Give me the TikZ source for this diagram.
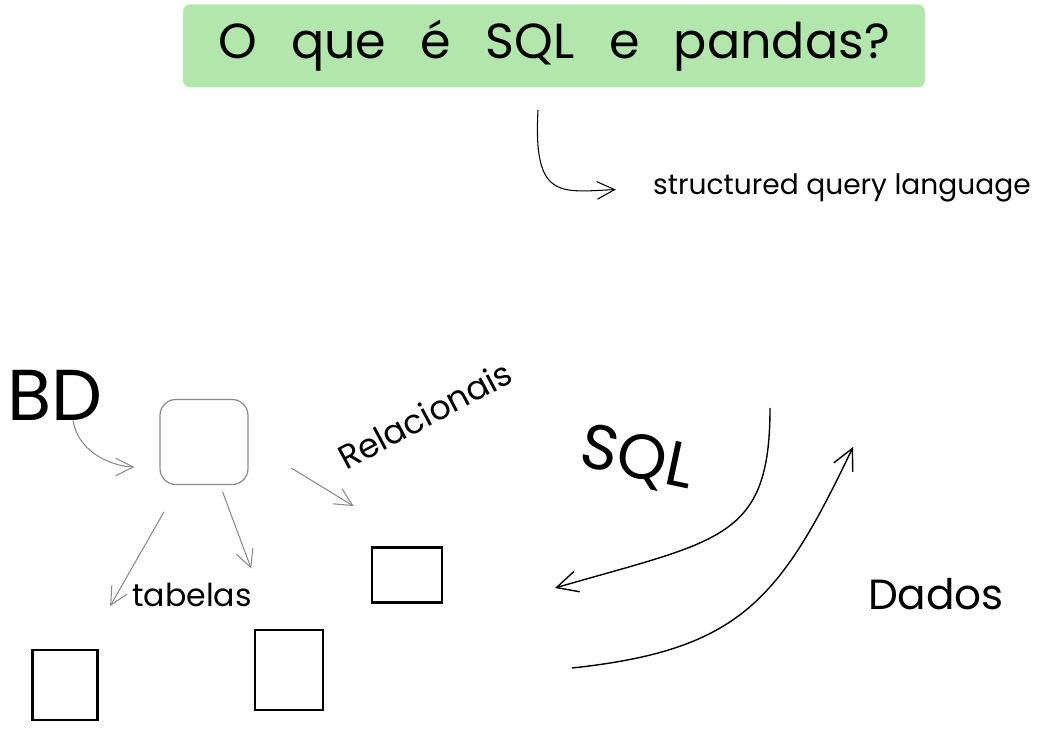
\documentclass[tikz,border=0pt]{standalone}
\usepackage{fontspec}
\setmainfont{Poppins}
\usetikzlibrary{arrows.meta,positioning,calc}
\definecolor{sqgreen}{HTML}{B2E6AD}
\definecolor{sqgray}{HTML}{8A8A8A}
\newcommand{\gap}{\hspace{0.7em}}

\begin{document}
\begin{tikzpicture}[x=0.02cm,y=-0.02cm,>={Straight Barb[length=10pt,width=10pt]},
  txt/.style={inner sep=0pt},
  tab/.style={draw,line width=1.6pt,inner sep=0pt},
  sqbox/.style={draw=sqgray,line width=0.7pt,rounded corners=9pt,minimum width=1.76cm,minimum height=1.7cm},
  gar/.style={->,draw=sqgray,line width=0.6pt},
  big/.style={->,line width=0.8pt,>={Straight Barb[length=12pt,width=12pt]}}]
\useasboundingbox (0,0) rectangle (1043,732);
\node[fill=sqgreen,rounded corners=4pt,minimum width=14.84cm,minimum height=1.66cm,font=\fontsize{28}{30}\selectfont](title) at (554,46){O\gap que\gap é\gap SQL\gap e\gap pandas?};
\node[txt,font=\fontsize{16}{19}\selectfont](def) at (842,188){structured query language};
\coordinate (q) at (538,110);
\draw[->,line width=0.6pt,shorten >=0.74cm] (q) .. controls (533,200) and (560,192) .. (def.west);
% banco de dados
\node[txt,font=\fontsize{41}{44}\selectfont](bd) at (55,395){BD};
\node[sqbox](sq) at (204,442){};
\draw[gar,shorten >=0.5cm] ([xshift=0.36cm]bd.south) to[out=-80,in=180] ([yshift=-0.5cm]sq.west);
\node[txt,rotate=28,font=\fontsize{19}{22}\selectfont](rel) at (425,415){Relacionais};
\node[txt,font=\fontsize{18}{22}\selectfont](tb) at (192,595){tabelas};
% tabelas
\node[tab,minimum width=1.4cm,minimum height=1.1cm](tabC) at (407,575){};
\node[tab,minimum width=1.3cm,minimum height=1.4cm](tabA) at (65,685){};
\node[tab,minimum width=1.36cm,minimum height=1.6cm](tabB) at (289,670){};
\draw[gar,shorten <=0.62cm,shorten >=0.98cm] (sq) -- (tabA);
\draw[gar,shorten <=0.14cm,shorten >=1.28cm] (sq) -- (tabB);
\draw[gar,shorten <=1cm] (sq.east) -- ($(tabC.north west)+(-17,-40)$);
% SQL e dados
\node[txt,rotate=-12,font=\fontsize{36}{40}\selectfont](sqltxt) at (637,460){SQL};
\node[txt,font=\fontsize{24}{28}\selectfont](dados) at (936,594){Dados};
\coordinate (s1) at (770,408);
\coordinate (s2) at (555,588);
\coordinate (d1) at (572,668);
\coordinate (d2) at (853,447);
\draw[big] (s1) .. controls (770,540) and (720,540) .. (s2);
\draw[big] (d1) .. controls (740,650) and (780,600) .. (d2);
\end{tikzpicture}
\end{document}
